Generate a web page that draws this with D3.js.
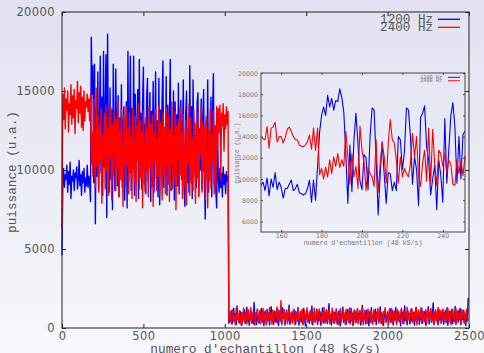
<!DOCTYPE html>
<html><head><meta charset="utf-8">
<script src="https://cdn.jsdelivr.net/npm/d3@7"></script>
<style>html,body{margin:0;padding:0;overflow:hidden;background:#f0f0f8;}svg{display:block;}</style>
</head><body><svg id="c" width="484" height="353"></svg>
<script>
const seriesNames = ["1200 Hz", "2400 Hz"];
const mainStep = 5;
const blueMain = [
4600,9200,10100,8900,9700,9400,10300,8600,9900,9100,10500,8200,9600,9300,10000,8700,9800,9500,10200,8800,
9400,10600,9000,9700,8400,9900,9200,10100,8600,9500,9000,10300,8900,9600,9300,
8000,18400,14800,16600,9200,16700,6600,13900,9600,16200,8800,12500,17200,9800,14600,8400,17500,10200,13400,17300,
7000,18600,11200,8600,15200,9400,13800,7500,16700,10800,8700,16400,12100,9000,14700,8300,13300,10400,15400,8900,
12800,14000,8100,11700,14300,7600,17500,9300,12600,17200,8700,13900,10100,17200,8400,14800,9700,12300,15100,8200,
17000,10600,13600,8800,14200,16500,9100,12900,8500,14500,15800,9300,11800,14900,8000,13700,10500,15600,8600,12400,
16200,9500,13100,8300,15800,7800,13800,10300,14600,16900,8900,12700,9900,15900,8400,14100,10900,13200,17000,8700,
12200,9600,15000,8100,14300,10200,13500,9000,15500,8500,12900,14400,9400,11600,15700,8800,7700,13600,15000,9200,
12500,8600,16600,10400,14000,8200,15700,9700,13000,11300,8900,14200,14900,8400,12600,10000,14500,8800,13400,15100,
9300,6900,13100,10700,15700,8600,12300,9800,14600,8300,13700,16100,9100,11900,8700,7600,12800,
9500,8600,10100,8900,9800,8300,10200,9100,9700,8500,9900,9300,9600,
300,850,420,1100,260,690,1250,380,920,210,1400,540,780,330,1050,460,170,880,620,1150,
290,740,1320,410,960,180,680,1080,350,820,250,1610,470,900,220,1130,560,310,990,720,
1240,380,640,150,1020,830,270,1180,500,760,200,940,1350,430,680,240,1060,590,350,870,
1210,160,730,1010,440,280,1290,620,910,190,840,1120,370,550,1450,230,780,1000,320,660,
1170,410,230,950,700,1300,180,560,1040,390,820,260,1230,610,140,890,1110,450,720,300,
1060,530,1380,210,800,970,360,650,1190,240,880,470,1020,170,760,1270,330,590,940,420,
1150,280,710,1540,380,860,190,1090,640,310,990,520,1210,250,780,1070,400,150,920,680,
1320,360,570,1000,220,840,1160,430,690,270,1250,510,930,180,760,1040,340,620,1180,290,
870,1100,200,650,1420,380,740,960,260,1130,480,810,150,1020,590,1280,320,700,900,440,
1190,230,830,1060,370,610,1340,280,950,500,170,880,1140,410,720,1010,250,660,1230,350,
790,1090,190,940,560,1300,300,680,1050,420,820,140,1170,630,970,270,1400,480,760,210,
1080,590,900,330,1220,450,710,1000,180,860,1310,390,640,1120,240,930,530,1260,300,770,
1040,420,160,990,700,1350,260,820,1150,370,600,1590,220,880,1070,460,730,190,1200,540,
950,310,1130,680,240,1020,850,400,1290,170,760,1080,350,620,1190,280,910,470,1360,230,
800,1050,380,690,1240,200,960,530,1120,320,870,150,1000,440,1900
];
const redMain = [
6300,14800,13200,15200,12600,14500,13800,15000,12400,14200,13500,15400,12900,14700,13300,15100,12300,14400,13900,15600,
13000,14900,13600,15300,12700,14600,12500,15000,13100,14300,14000,14800,13700,14500,13100,
14800,10400,12400,9600,14500,11100,8900,15200,10200,13400,8600,12800,10500,13900,7900,12200,11000,13600,8800,14100,
9900,12600,8400,13300,10800,14000,8100,12900,9700,13700,11400,8700,13200,10100,14300,8300,12500,9400,13800,10700,
7700,13500,11800,9000,14000,10300,12700,8500,13600,9800,12100,8200,13900,11000,9300,13400,8000,12800,10600,14200,
8800,13100,9500,12400,7600,13700,10900,8600,13300,9900,12600,8300,14000,10200,12900,8900,13500,7700,12300,10500,
13800,8700,12000,9600,14100,8400,13000,11200,8100,13600,9800,12700,8500,13900,10700,9100,13400,8000,12500,10300,
14300,8800,12200,9400,13700,7500,12800,10800,13200,8600,14000,9700,12400,8200,13500,10100,8900,13100,7800,12600,
10400,14200,8400,13300,9200,12000,8700,13800,10600,7900,12900,9500,13600,8300,12300,11000,14100,8600,13000,9900,
12700,8100,13400,10200,7600,12500,9300,13900,8800,12100,10500,13700,8500,12800,9000,14000,11300,
13900,12400,14100,9400,13600,12800,14200,11200,13500,12600,14000,12900,13700,
400,1050,620,280,940,1180,450,770,210,1230,560,890,340,1100,680,190,990,510,1270,370,
830,1010,250,720,1160,430,600,1300,300,880,1060,480,180,950,740,1210,360,650,1120,260,
910,530,1240,320,790,1080,200,700,970,440,1290,580,860,230,1150,620,400,1020,760,1330,
290,860,1100,470,1720,210,940,650,1180,380,820,1040,270,710,1260,450,590,980,330,1130,
680,240,1070,890,420,1220,560,310,960,740,1190,200,830,1050,460,640,1280,350,770,1000,
520,1160,260,900,690,1240,410,580,1090,220,850,1200,480,720,330,1010,620,1300,280,940,
1080,390,760,1170,250,870,610,1250,440,1020,300,690,1140,530,810,200,970,1220,370,650,
1100,480,860,230,1190,560,930,340,1270,710,450,1040,180,800,1150,600,380,990,1230,270,
720,1060,430,910,1320,210,640,1110,500,850,290,1200,680,960,360,1080,540,240,1160,790,
410,1000,630,1260,320,870,1130,460,700,190,1050,830,1290,350,620,980,260,1170,570,900,
1220,300,760,1080,490,940,220,1180,660,1020,380,820,1250,540,280,1100,710,930,420,1310,
590,850,250,1060,780,1190,340,640,1000,470,1230,200,900,1120,560,730,1280,310,870,1040,
430,690,1170,260,950,1090,520,800,1240,350,610,1010,220,880,1150,470,740,1300,390,960,
1070,280,830,1200,560,680,1130,330,920,1260,450,750,1040,210,870,1180,600,400,990,1220,
360,810,1110,520,940,250,1160,640,880,1050,300,730,1190,470,620
];
const insetStart = 150;
const blueInset = [
9400,9700,8900,10100,8400,10000,9200,10600,9000,9700,9200,8200,9100,9100,9500,9900,8900,9100,9500,8700,
8600,8500,8600,9100,9900,7800,9900,8000,11200,14400,16000,16800,16000,17900,16800,17600,16500,17400,17300,18500,
17700,16300,12300,7700,13200,8800,13600,16200,13400,9800,9000,12300,12000,9000,14000,16700,16500,11900,6600,10300,
13500,10400,7700,10600,10500,8900,9700,8900,14000,13700,10900,12500,16700,16500,14000,9500,12100,10900,7500,15800,
16200,16900,13000,11800,8500,10000,11300,7100,11800,10400,7800,15700,9600,12800,16000,17200,14900,9600,14000,10000,
14200,14500
];
const redInset = [
14000,13800,13700,14950,12900,14800,14900,15350,13500,14000,14000,13400,13900,14700,14900,14500,14000,13700,13700,13200,
13100,13050,13200,13500,14150,12800,14800,12700,14800,10400,11000,10000,11100,10200,11800,10500,12100,11200,12400,11100,
11800,11200,14500,12100,9500,12400,10200,11200,9100,15000,12700,11600,8900,11100,10500,10200,9300,13700,8700,11400,
13400,12100,9600,13400,15600,13700,13400,11800,9600,12100,10200,11000,10500,10200,11500,14300,12100,14000,10200,9300,
11500,12700,9800,14800,9600,14700,11400,9400,12700,12400,11200,12400,10500,11800,11400,9500,9400,11800,10500,11800,
10300,12200
];
const mainXTicks = [0, 500, 1000, 1500, 2000, 2500];
const mainYTicks = [0, 5000, 10000, 15000, 20000];
const insetXTicks = [160, 180, 200, 220, 240];
const insetYTicks = [6000, 8000, 10000, 12000, 14000, 16000, 18000, 20000];
const xLabel = "numero d'echantillon (48 kS/s)";
const yLabel = "puissance (u.a.)";

const colors = ["#0000ff", "#ff0000"];
const svg = d3.select("#c");
const defs = svg.append("defs");
const grad = defs.append("linearGradient").attr("id","bg").attr("x1",0).attr("y1",0).attr("x2",0).attr("y2",1);
grad.append("stop").attr("offset","0%").attr("stop-color","#e1e1f2");
grad.append("stop").attr("offset","100%").attr("stop-color","#f7f7fb");
svg.append("rect").attr("width",484).attr("height",353).attr("fill","url(#bg)");

const M = {l:62, r:469, t:12, b:328};
const x = d3.scaleLinear().domain([0,2500]).range([M.l, M.r]);
const y = d3.scaleLinear().domain([0,20000]).range([M.b, M.t]);

const tickFont = "DejaVu Sans, sans-serif";
const monoFont = "Liberation Mono, DejaVu Sans Mono, monospace";
const txtCol = "#555";

function styleAxis(g, size, col) {
  g.select(".domain").remove();
  g.selectAll("line").attr("stroke", col);
  g.selectAll("text").attr("fill", txtCol).attr("font-family", tickFont).attr("font-size", size);
}

// main axes (ticks inward, mirrored)
svg.append("g").attr("transform",`translate(${M.l},0)`)
  .call(d3.axisLeft(y).tickValues(mainYTicks).tickFormat(d3.format("d")).tickSize(-4).tickPadding(7))
  .call(g=>styleAxis(g,"11.5px","#222"));
svg.append("g").attr("transform",`translate(${M.r},0)`)
  .call(d3.axisRight(y).tickValues(mainYTicks).tickFormat("").tickSize(-4))
  .call(g=>styleAxis(g,"11.5px","#222"));
svg.append("g").attr("transform",`translate(0,${M.b})`)
  .call(d3.axisBottom(x).tickValues(mainXTicks).tickFormat(d3.format("d")).tickSize(-4).tickPadding(4))
  .call(g=>styleAxis(g,"11.5px","#222"));
svg.append("g").attr("transform",`translate(0,${M.t})`)
  .call(d3.axisTop(x).tickValues(mainXTicks).tickFormat("").tickSize(-4))
  .call(g=>styleAxis(g,"11.5px","#222"));
svg.selectAll("text").attr("letter-spacing","0.4");

// main lines
const mainLine = d3.line().x((d,i)=>x(i*mainStep)).y(d=>y(d));
[blueMain, redMain].forEach((arr,k)=>{
  svg.append("path").datum(arr).attr("d", mainLine).attr("fill","none")
    .attr("stroke", colors[k]).attr("stroke-width",1.4).attr("stroke-linejoin","round");
});

// main frame
svg.append("rect").attr("x",M.l).attr("y",M.t).attr("width",M.r-M.l).attr("height",M.b-M.t)
  .attr("fill","none").attr("stroke","#222").attr("stroke-width",1);

// labels
svg.append("text").attr("x",(M.l+M.r)/2).attr("y",353).attr("text-anchor","middle")
  .attr("font-family",monoFont).attr("font-size","12.8px").attr("fill",txtCol).text(xLabel);
svg.append("text").attr("transform","translate(16,172) rotate(-90)").attr("text-anchor","middle")
  .attr("font-family",monoFont).attr("font-size","12.7px").attr("fill",txtCol).text(yLabel);

// main legend
const legY = [19.3, 27.3];
seriesNames.forEach((n,k)=>{
  svg.append("text").attr("x",433).attr("y",legY[k]+3.6).attr("text-anchor","end")
    .attr("font-family",monoFont).attr("font-size","12.6px").attr("fill",txtCol).text(n);
  svg.append("line").attr("x1",438).attr("x2",460).attr("y1",legY[k]).attr("y2",legY[k])
    .attr("stroke",colors[k]).attr("stroke-width",1.3);
});

// inset
const I = {l:261, r:465, t:73, b:232};
const xi = d3.scaleLinear().domain([150,251]).range([I.l, I.r]);
const yi = d3.scaleLinear().domain([5000,20000]).range([I.b, I.t]);
const insetCol = "#444";
svg.append("g").attr("transform",`translate(${I.l},0)`)
  .call(d3.axisLeft(yi).tickValues(insetYTicks).tickFormat(d3.format("d")).tickSize(-2).tickPadding(3))
  .call(g=>styleAxis(g,"6.3px",insetCol))
  .call(g=>g.selectAll("text").attr("fill","#777"));
svg.append("g").attr("transform",`translate(${I.r},0)`)
  .call(d3.axisRight(yi).tickValues(insetYTicks).tickFormat("").tickSize(-2))
  .call(g=>styleAxis(g,"6.3px",insetCol));
svg.append("g").attr("transform",`translate(0,${I.b})`)
  .call(d3.axisBottom(xi).tickValues(insetXTicks).tickFormat(d3.format("d")).tickSize(-2).tickPadding(2))
  .call(g=>styleAxis(g,"6.3px",insetCol))
  .call(g=>g.selectAll("text").attr("fill","#777"));
svg.append("g").attr("transform",`translate(0,${I.t})`)
  .call(d3.axisTop(xi).tickValues(insetXTicks).tickFormat("").tickSize(-2))
  .call(g=>styleAxis(g,"6.3px",insetCol));

const insetLine = d3.line().x((d,i)=>xi(insetStart+i)).y(d=>yi(d));
[blueInset, redInset].forEach((arr,k)=>{
  svg.append("path").datum(arr).attr("d", insetLine).attr("fill","none")
    .attr("stroke", colors[k]).attr("stroke-width",1.1).attr("stroke-linejoin","round");
});
svg.append("rect").attr("x",I.l).attr("y",I.t).attr("width",I.r-I.l).attr("height",I.b-I.t)
  .attr("fill","none").attr("stroke",insetCol).attr("stroke-width",1);

svg.append("text").attr("x",(I.l+I.r)/2).attr("y",245).attr("text-anchor","middle")
  .attr("font-family",monoFont).attr("font-size","6.6px").attr("fill","#777").text(xLabel);
svg.append("text").attr("transform","translate(239,153) rotate(-90)").attr("text-anchor","middle")
  .attr("font-family",monoFont).attr("font-size","6.3px").attr("fill","#777").text(yLabel);

const ilegY = [77.3, 80.7];
seriesNames.forEach((n,k)=>{
  svg.append("text").attr("x",442).attr("y",ilegY[k]+1.6).attr("text-anchor","end")
    .attr("font-family",monoFont).attr("font-size","5.2px").attr("fill","#777").text(n);
  svg.append("line").attr("x1",448).attr("x2",460).attr("y1",ilegY[k]).attr("y2",ilegY[k])
    .attr("stroke",colors[k]).attr("stroke-width",0.9);
});
</script></body></html>
